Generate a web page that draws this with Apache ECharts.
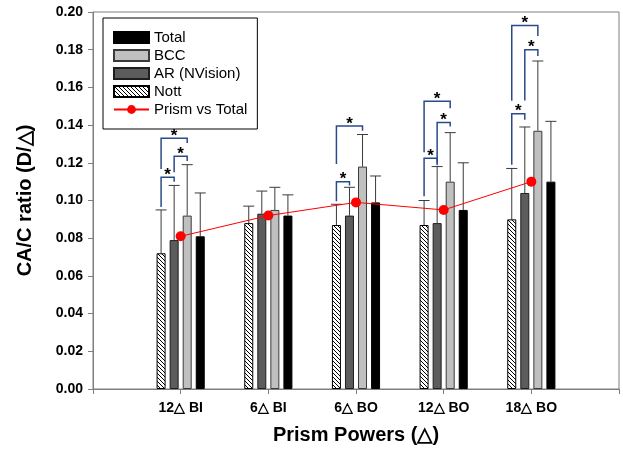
<!DOCTYPE html>
<html>
<head>
<meta charset="utf-8">
<script src="https://cdn.jsdelivr.net/npm/echarts@6/dist/echarts.min.js"></script>
<style>
  html, body { margin: 0; padding: 0; background: #fff; }
  #main { width: 623px; height: 450px; }
</style>
</head>
<body>
<div id="main"></div>
<script>
// categories and values
const categories = ['12△ BI', '6△ BI', '6△ BO', '12△ BO', '18△ BO'];

const nott = [0.072, 0.088, 0.087, 0.087, 0.090];
const nottSd = [0.023, 0.009, 0.011, 0.013, 0.027];
const ar = [0.079, 0.093, 0.092, 0.088, 0.104];
const arSd = [0.029, 0.012, 0.015, 0.030, 0.035];
const bcc = [0.092, 0.095, 0.118, 0.110, 0.137];
const bccSd = [0.027, 0.012, 0.017, 0.026, 0.037];
const total = [0.081, 0.092, 0.099, 0.095, 0.110];
const totalSd = [0.023, 0.011, 0.014, 0.025, 0.032];
const prismVsTotal = [0.081, 0.092, 0.099, 0.095, 0.110];

// significance brackets: [category, fromBar, toBar, top, leftLegEnd, rightLegEnd]
// bar index: 0 Nott, 1 AR, 2 BCC, 3 Total
const brackets = [
    [0, 0, 1, 0.1123, 0.0966, 0.1100],
    [0, 1, 2, 0.1235, 0.1150, 0.1210],
    [0, 0, 2, 0.1330, 0.1167, 0.1305],
    [2, 0, 1, 0.1100, 0.0996, 0.1080],
    [2, 0, 2, 0.1395, 0.1194, 0.1370],
    [3, 0, 1, 0.1224, 0.1023, 0.1200],
    [3, 1, 2, 0.1414, 0.1187, 0.1393],
    [3, 0, 2, 0.1527, 0.1256, 0.1490],
    [4, 0, 1, 0.1460, 0.1189, 0.1429],
    [4, 1, 2, 0.1800, 0.1530, 0.1767],
    [4, 0, 2, 0.1929, 0.1529, 0.1873]
];

const FONT = 'Liberation Sans, Arial, sans-serif';
const BAR_W = 9;
const BAR_GAP = 0.45;
const STEP = BAR_W * (1 + BAR_GAP);

// padded with empty slots so the ticks sit where the figure has them
const axisCats = [''].concat(categories, ['']);
const pad = arr => ['-'].concat(arr, ['-']);

function hatch() {
    let c = document.createElement('canvas');
    c.width = 4;
    c.height = 4;
    let ctx = c.getContext('2d');
    ctx.fillStyle = '#fff';
    ctx.fillRect(0, 0, 4, 4);
    ctx.strokeStyle = '#000';
    ctx.lineWidth = 1;
    ctx.beginPath();
    ctx.moveTo(-1, -1); ctx.lineTo(5, 5);
    ctx.moveTo(-1, 3); ctx.lineTo(1, 5);
    ctx.moveTo(3, -1); ctx.lineTo(5, 1);
    ctx.stroke();
    return c;
}

let errData = [];
[[nott, nottSd], [ar, arSd], [bcc, bccSd], [total, totalSd]].forEach((p, b) => {
    p[0].forEach((v, i) => errData.push([i + 1, v, p[1][i], b]));
});

let bracketData = brackets.map(d => [d[0] + 1, d[1], d[2], d[3], d[4], d[5]]);

function barX(api, cat, bar) {
    return api.coord([cat, 0])[0] + (bar - 1.5) * STEP;
}

function renderErr(params, api) {
    let cat = api.value(0), v = api.value(1), sd = api.value(2), b = api.value(3);
    let x = barX(api, cat, b);
    let y1 = api.coord([cat, v])[1];
    let y2 = api.coord([cat, v + sd])[1];
    let st = { stroke: '#3a3a3a', lineWidth: 1 };
    return {
        type: 'group',
        children: [
            { type: 'line', shape: { x1: x, y1: y1, x2: x, y2: y2 }, style: st },
            { type: 'line', shape: { x1: x - 5.5, y1: y2, x2: x + 5.5, y2: y2 }, style: st }
        ]
    };
}

function renderBracket(params, api) {
    let cat = api.value(0);
    let xa = barX(api, cat, api.value(1));
    let xb = barX(api, cat, api.value(2));
    let yt = api.coord([cat, api.value(3)])[1];
    let ya = api.coord([cat, api.value(4)])[1];
    let yb = api.coord([cat, api.value(5)])[1];
    return {
        type: 'group',
        children: [
            {
                type: 'polyline',
                shape: { points: [[xa, ya], [xa, yt], [xb, yt], [xb, yb]] },
                style: { stroke: '#2b4a8c', lineWidth: 1.5, fill: null }
            },
            {
                type: 'text',
                style: {
                    text: '*', x: (xa + xb) / 2, y: yt - 2,
                    align: 'center', verticalAlign: 'middle',
                    font: 'bold 17px ' + FONT, fill: '#000'
                }
            }
        ]
    };
}

let chart = echarts.init(document.getElementById('main'));
let option = {
    animation: false,
    backgroundColor: '#fff',
    textStyle: { fontFamily: FONT },
    grid: {
        left: 93, right: 4, top: 12, bottom: 60,
        show: true, borderColor: '#7f7f7f', borderWidth: 1
    },
    legend: {
        orient: 'vertical',
        left: 103, top: 18,
        padding: [12, 10, 12, 10],
        borderColor: '#000', borderWidth: 1,
        itemWidth: 35, itemHeight: 11, itemGap: 3,
        textStyle: { fontSize: 15, color: '#000', fontFamily: FONT },
        data: [
            { name: 'Total', icon: 'rect' },
            { name: 'BCC', icon: 'rect' },
            { name: 'AR (NVision)', icon: 'rect' },
            { name: 'Nott', icon: 'rect' },
            'Prism vs Total'
        ]
    },
    xAxis: {
        type: 'category',
        data: axisCats,
        boundaryGap: false,
        name: 'Prism Powers (△)',
        nameLocation: 'middle',
        nameGap: 36,
        nameTextStyle: { fontSize: 20, fontWeight: 'bold', color: '#000' },
        axisLine: { lineStyle: { color: '#7f7f7f' } },
        axisTick: { show: true, length: 5, lineStyle: { color: '#7f7f7f' } },
        axisLabel: { fontSize: 14, fontWeight: 'bold', color: '#000', margin: 12, interval: 0 },
        splitLine: { show: false }
    },
    yAxis: {
        type: 'value',
        min: 0, max: 0.2, interval: 0.02,
        name: 'CA/C ratio (D/△)',
        nameLocation: 'middle',
        nameGap: 58,
        nameTextStyle: { fontSize: 20, fontWeight: 'bold', color: '#000' },
        axisLine: { show: true, lineStyle: { color: '#7f7f7f' } },
        axisTick: { show: true, length: 5, lineStyle: { color: '#7f7f7f' } },
        axisLabel: { fontSize: 14, fontWeight: 'bold', color: '#000', margin: 10,
            formatter: v => v.toFixed(2) },
        splitLine: { show: false }
    },
    series: [
        {
            name: 'Nott', type: 'bar', data: pad(nott),
            barWidth: BAR_W, barGap: (BAR_GAP * 100) + '%',
            itemStyle: { color: { image: hatch(), repeat: 'repeat' }, borderColor: '#000', borderWidth: 1 }
        },
        {
            name: 'AR (NVision)', type: 'bar', data: pad(ar),
            barWidth: BAR_W,
            itemStyle: { color: '#5c5c5c', borderColor: '#1e1e1e', borderWidth: 1 }
        },
        {
            name: 'BCC', type: 'bar', data: pad(bcc),
            barWidth: BAR_W,
            itemStyle: { color: '#c0c0c0', borderColor: '#3a3a3a', borderWidth: 1 }
        },
        {
            name: 'Total', type: 'bar', data: pad(total),
            barWidth: BAR_W,
            itemStyle: { color: '#000', borderColor: '#000', borderWidth: 1 }
        },
        {
            name: 'errors', type: 'custom', data: errData,
            renderItem: renderErr, z: 1, silent: true,
            encode: { x: 0, y: 1 }
        },
        {
            name: 'brackets', type: 'custom', data: bracketData,
            renderItem: renderBracket, z: 3, silent: true,
            encode: { x: 0, y: 3 }
        },
        {
            name: 'Prism vs Total', type: 'line', data: pad(prismVsTotal),
            symbol: 'circle', symbolSize: 10, z: 5,
            lineStyle: { color: '#ff0000', width: 1 },
            itemStyle: { color: '#ff0000' }
        }
    ]
};
chart.setOption(option);
</script>
</body>
</html>
